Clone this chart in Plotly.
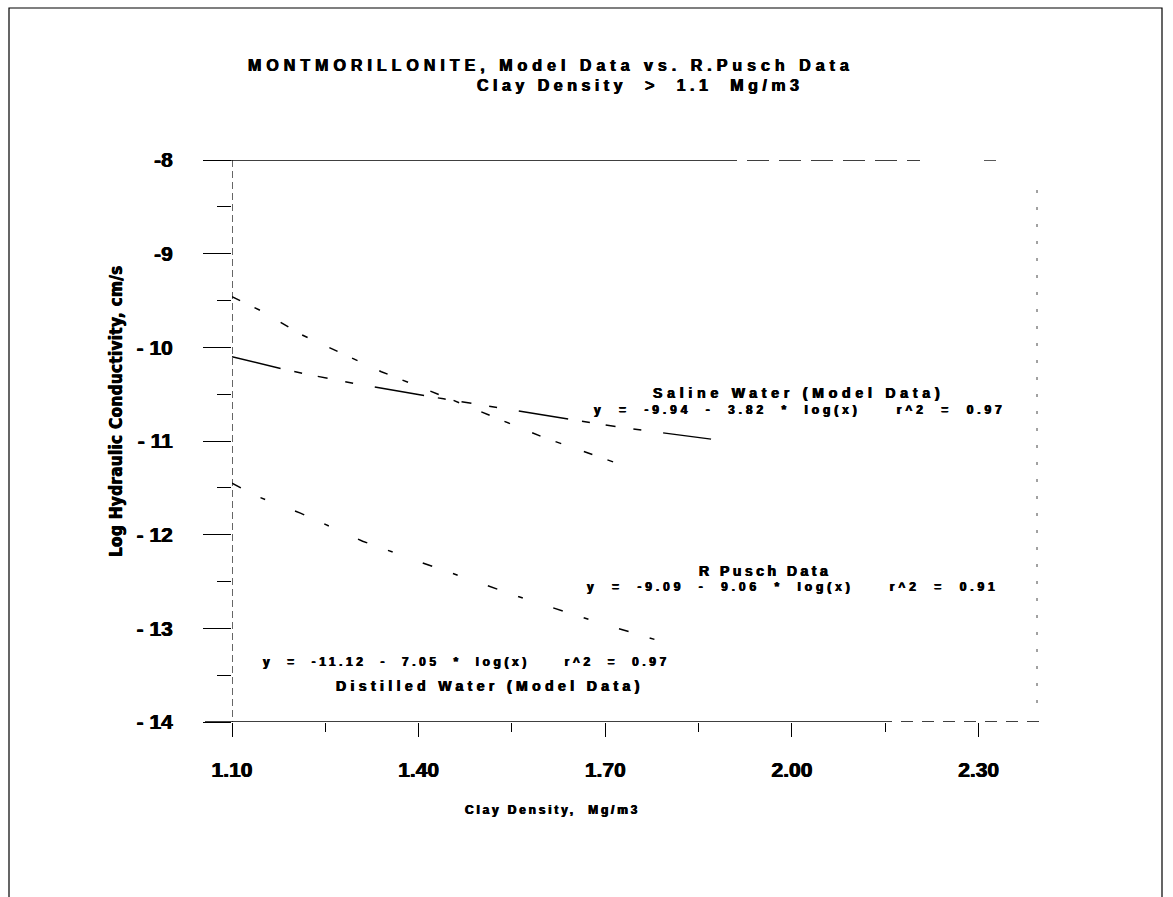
import plotly.graph_objects as go

# Hydraulic conductivity curves (log10 cm/s) against clay density (Mg/m3)
saline_x = [1.10, 1.18, 1.23, 1.30, 1.44, 1.60, 1.72, 1.87]
saline_y = [-10.10, -10.23, -10.30, -10.39, -10.55, -10.72, -10.85, -10.98]

pusch_x = [1.10, 1.15, 1.21, 1.28, 1.34, 1.45, 1.60, 1.72]
pusch_y = [-9.46, -9.62, -9.86, -10.08, -10.26, -10.55, -10.96, -11.24]

distilled_x = [1.10, 1.14, 1.21, 1.28, 1.31, 1.41, 1.56, 1.69, 1.78]
distilled_y = [-11.45, -11.59, -11.77, -11.98, -12.07, -12.31, -12.66, -12.94, -13.12]

x_ticks = [1.10, 1.40, 1.70, 2.00, 2.30]
x_ticktext = ["1.10", "1.40", "1.70", "2.00", "2.30"]
x_minor = [1.25, 1.55, 1.85, 2.15]
y_ticks = [-8, -9, -10, -11, -12, -13, -14]
y_ticktext = ["-8", "-9", "- 10", "- 11", "- 12", "- 13", "- 14"]
y_minor = [-8.5, -9.5, -10.5, -11.5, -12.5, -13.5]

W, H = 1173, 897
L, R, T, B = 232, 136, 160, 175
PW, PH = W - L - R, H - T - B

FONT = "Liberation Sans, Arial, Helvetica, sans-serif"
NARROW = "Liberation Sans Narrow, Arial Narrow, DejaVu Sans Condensed, sans-serif"
HEAVY = "0.45px 0 0 black, -0.45px 0 0 black"


def px(x):
    return (x - L) / PW


def py(y):
    return (H - B - y) / PH


def spaced(text, sp):
    return f'<span style="letter-spacing:{sp}px">{text}</span>'


fig = go.Figure()
fig.add_trace(go.Scatter(x=saline_x, y=saline_y, mode="lines",
                         line=dict(color="black", width=1.5,
                                   dash="50px,14px,8px,16px,10px,18px,8px,22px")))
fig.add_trace(go.Scatter(x=pusch_x, y=pusch_y, mode="lines",
                         line=dict(color="black", width=1.5, dash="9px,16px,6px,24px")))
fig.add_trace(go.Scatter(x=distilled_x, y=distilled_y, mode="lines",
                         line=dict(color="black", width=1.5, dash="10px,22px,5px,32px")))

shapes = [
    # top frame line
    dict(type="line", xref="paper", yref="y", x0=px(205), x1=px(715), y0=-8, y1=-8,
         line=dict(color="black", width=1.5)),
    dict(type="line", xref="paper", yref="y", x0=px(715), x1=px(920), y0=-8, y1=-8,
         line=dict(color="black", width=1.3, dash="22px,10px")),
    dict(type="line", xref="paper", yref="y", x0=px(984), x1=px(996), y0=-8, y1=-8,
         line=dict(color="black", width=1.3)),
    # bottom frame line
    dict(type="line", xref="paper", yref="y", x0=px(205), x1=px(880), y0=-14, y1=-14,
         line=dict(color="black", width=1.5)),
    dict(type="line", xref="paper", yref="y", x0=px(880), x1=px(1040), y0=-14, y1=-14,
         line=dict(color="black", width=1.3, dash="12px,9px")),
    # vertical axis line at the first density value
    dict(type="line", xref="x", yref="y", x0=1.10, x1=1.10, y0=-8, y1=-14,
         line=dict(color="black", width=1.2, dash="7px,4px")),
    # right frame line
    dict(type="line", xref="paper", yref="paper", x0=1, x1=1, y0=py(190), y1=py(705),
         line=dict(color="#444", width=1, dash="3px,14px")),
    # page border
    dict(type="rect", xref="paper", yref="paper", x0=px(9), x1=px(1162), y0=py(8), y1=py(905),
         line=dict(color="black", width=1.2)),
]

ann = []


def label(text, x, y, size, sp, family=FONT, angle=0):
    ann.append(dict(text=spaced(text, sp), x=px(x), y=py(y), xref="paper", yref="paper",
                    showarrow=False, xanchor="center", yanchor="middle", textangle=angle,
                    font=dict(family=family, size=size, color="black", weight="bold",
                              shadow=HEAVY)))


label("MONTMORILLONITE, Model Data vs. R.Pusch Data", 551, 66, 16, 5)
label("Clay Density  >  1.1  Mg/m3", 640, 85, 16, 4.5)
label("Clay Density,  Mg/m3", 552, 810, 12, 2.8)
label("Log Hydraulic Conductivity, cm/s", 116, 411, 17, 0.3, family=NARROW, angle=-90)
label("Saline Water (Model Data)", 798, 393, 14, 4.8)
label("y  =  -9.94  -  3.82  *  log(x)     r^2  =  0.97", 800, 410, 12, 3.9)
label("R Pusch Data", 765, 571, 14, 3.5)
label("y  =  -9.09  -  9.06  *  log(x)     r^2  =  0.91", 793, 587, 12, 3.9)
label("y  =  -11.12  -  7.05  *  log(x)     r^2  =  0.97", 466, 662, 12, 3.6)
label("Distilled Water (Model Data)", 490, 686, 14, 4.4)

tickfont = dict(family=FONT, size=21, color="black", weight="bold", shadow=HEAVY)

fig.update_layout(
    width=W, height=H, autosize=False,
    margin=dict(l=L, r=R, t=T, b=B, pad=0),
    paper_bgcolor="white", plot_bgcolor="white",
    showlegend=False,
    shapes=shapes, annotations=ann,
    xaxis=dict(range=[1.10, 1.10 + PW / 622.2], tickvals=x_ticks, ticktext=x_ticktext,
               ticks="outside", ticklen=14, tickwidth=1.2, tickcolor="black",
               minor=dict(tickvals=x_minor, ticks="outside", ticklen=9, tickcolor="black"),
               showgrid=False, zeroline=False, showline=False,
               tickfont=tickfont, ticklabelstandoff=15),
    yaxis=dict(range=[-14, -8], tickvals=y_ticks, ticktext=y_ticktext,
               ticks="outside", ticklen=28, tickwidth=1.2, tickcolor="black",
               minor=dict(tickvals=y_minor, ticks="outside", ticklen=14, tickcolor="black"),
               showgrid=False, zeroline=False, showline=False,
               tickfont=tickfont, ticklabelstandoff=26),
)

fig.write_html("out.html")
